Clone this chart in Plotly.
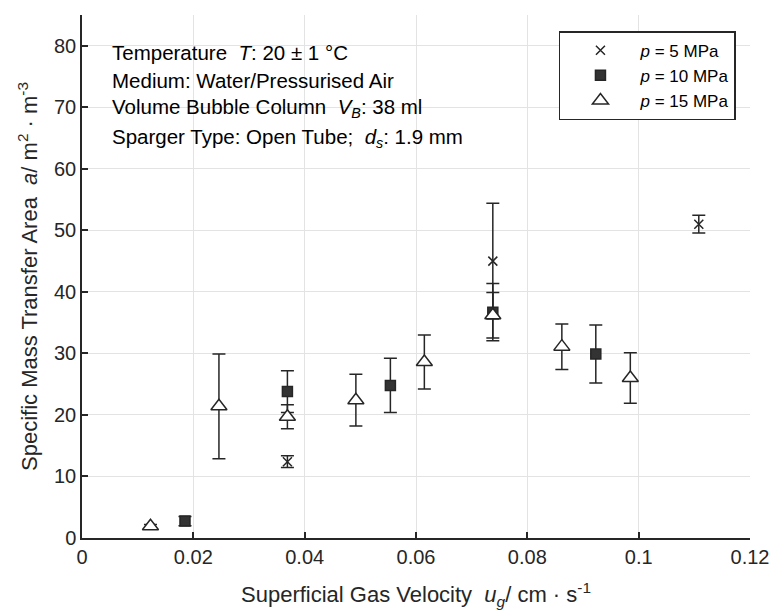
import plotly.graph_objects as go

# ---- data ----
x_p5 = [0.0369, 0.0738, 0.1108]
y_p5 = [12.4, 45.0, 51.0]
e_p5 = [0.95, 9.4, 1.45]

x_p10 = [0.0185, 0.0369, 0.0554, 0.0738, 0.0923]
y_p10 = [2.75, 23.8, 24.8, 36.7, 29.9]
e_p10 = [0.75, 3.4, 4.4, 4.65, 4.7]

x_p15 = [0.0123, 0.0246, 0.0369, 0.0492, 0.0615, 0.0738, 0.0862, 0.0985]
y_p15 = [1.9, 21.4, 19.7, 22.4, 28.6, 36.2, 31.1, 26.0]
e_p15 = [0.3, 8.5, 1.95, 4.2, 4.4, 3.7, 3.7, 4.1]

series_names = ["<i>p</i> = 5 MPa", "<i>p</i> = 10 MPa", "<i>p</i> = 15 MPa"]

info_lines = [
    "Temperature\u00a0\u00a0<i>T</i>: 20 ± 1 °C",
    "Medium: Water/Pressurised Air",
    "Volume Bubble Column\u00a0\u00a0<i>V</i><sub><i>B</i></sub>: 38 ml",
    "Sparger Type: Open Tube;\u00a0\u00a0<i>d</i><sub><i>s</i></sub>: 1.9 mm",
]
info_y = [0.928, 0.875, 0.822, 0.765]

FONT = "Liberation Sans, Arial, sans-serif"
DARK = "#262626"

err_style = dict(type="data", visible=True, color=DARK, thickness=1.5, width=6.5)

fig = go.Figure()
fig.add_trace(go.Scatter(
    x=x_p5, y=y_p5, mode="markers", name=series_names[0],
    error_y=dict(array=e_p5, **err_style),
    marker=dict(symbol="x-thin", size=9, color=DARK, line=dict(color=DARK, width=1.5)),
))
fig.add_trace(go.Scatter(
    x=x_p10, y=y_p10, mode="markers", name=series_names[1],
    error_y=dict(array=e_p10, **err_style),
    marker=dict(symbol="square", size=10, color="#333333", line=dict(color=DARK, width=1.5)),
))
fig.add_trace(go.Scatter(
    x=x_p15, y=y_p15, mode="markers", name=series_names[2],
    error_y=dict(array=e_p15, **err_style),
    marker=dict(symbol="triangle-up", size=14, color="white", line=dict(color=DARK, width=1.5)),
))

# white box behind the info text (hides gridlines)
fig.add_shape(type="rect", xref="paper", yref="paper",
              x0=0.024, x1=0.608, y0=0.70, y1=0.971,
              fillcolor="white", line=dict(width=0), layer="between")

for txt, yy in zip(info_lines, info_y):
    fig.add_annotation(text=txt, xref="paper", yref="paper", x=0.042, y=yy,
                       xanchor="left", yanchor="middle", showarrow=False,
                       font=dict(family=FONT, size=20.5, color="black"))

axis_common = dict(
    showline=True, linecolor=DARK, linewidth=1.5, mirror=False,
    ticks="inside", ticklen=6, tickwidth=1.5, tickcolor=DARK,
    showgrid=True, gridcolor="#e3e3e3", gridwidth=1.2, zeroline=False,
    tickfont=dict(family=FONT, size=20, color="#262626"),
)

fig.update_layout(
    width=781, height=615,
    margin=dict(l=82, r=23, t=15, b=77),
    paper_bgcolor="white", plot_bgcolor="white",
    font=dict(family=FONT, color="#262626"),
    showlegend=True,
    legend=dict(x=0.714, y=0.969, xanchor="left", yanchor="top",
                bordercolor=DARK, borderwidth=1.5, bgcolor="white",
                font=dict(family=FONT, size=17, color="black"),
                itemwidth=70, tracegroupgap=0),
    xaxis=dict(range=[0, 0.12], dtick=0.02, tick0=0,
               title=dict(text="Superficial Gas Velocity\u00a0\u00a0<i>u</i><sub><i>g</i></sub>/ cm · s<sup>-1</sup>",
                          font=dict(family=FONT, size=22, color="#262626"), standoff=20),
               **axis_common),
    yaxis=dict(range=[0, 85], dtick=10, tick0=0,
               title=dict(text="Specific Mass Transfer Area\u00a0\u00a0<i>a</i>/ m<sup>2</sup> · m<sup>-3</sup>",
                          font=dict(family=FONT, size=22, color="#262626"), standoff=10),
               **axis_common),
)

fig.write_html("out.html")
